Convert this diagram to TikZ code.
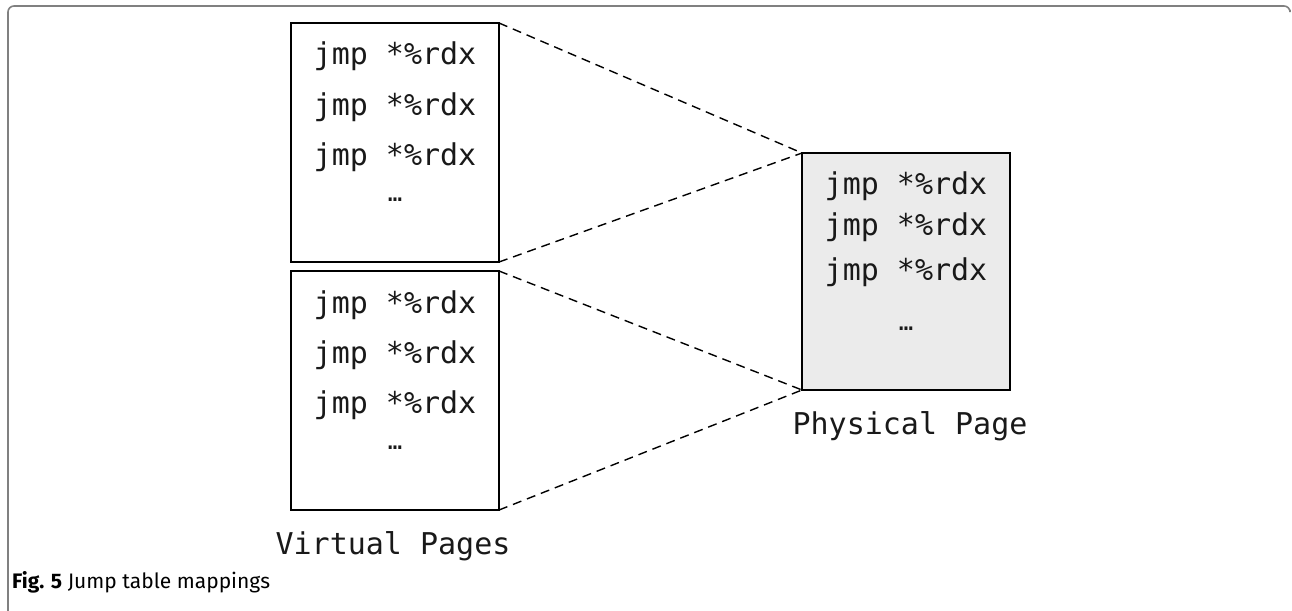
\documentclass[tikz,border=0pt]{standalone}
\usepackage{fontspec}
\newfontfamily\codefont{DejaVu Sans Mono}
\newfontfamily\capfont{Fira Sans}
\definecolor{pagegray}{HTML}{EBEBEB}
\definecolor{framegray}{HTML}{808080}
\tikzset{
  pagebox/.style={draw=black, line width=2pt, minimum width=208pt, anchor=north west, inner sep=0pt, outer sep=0pt},
  code/.style={font=\codefont\fontsize{30}{30}\selectfont, anchor=base, inner sep=0pt, text=black!90},
  dots/.style={font=\codefont\fontsize{24}{24}\selectfont, anchor=base, inner sep=0pt, text=black!90},
  maplink/.style={draw=black, line width=1.4pt, dash pattern=on 9pt off 6pt},
}
\begin{document}
\begin{tikzpicture}[x=1pt,y=-1pt]
\useasboundingbox (0,0) rectangle (1292,610);
% frame
\draw[framegray, line width=1.6pt, rounded corners=6pt] (8,612) -- (8,6) -- (1290,6) -- (1290,10);
% boxes
\node[pagebox, minimum height=239pt] (vtop) at (291,23) {};
\node[pagebox, minimum height=239pt] (vbot) at (291,271) {};
\node[pagebox, minimum height=237pt, fill=pagegray] (phys) at (802,153) {};
% connectors
\draw[maplink] (vtop.north east) -- (phys.north west);
\draw[maplink] (vtop.south east) -- (phys.north west);
\draw[maplink] (vbot.north east) -- (phys.south west);
\draw[maplink] (vbot.south east) -- (phys.south west);
% text virtual top
\node[code] (t1) at (395,65) {jmp *\%rdx};
\node[code] (t2) at (395,115) {jmp *\%rdx};
\node[code] (t3) at (395,165) {jmp *\%rdx};
\node[dots] (t4) at (395,201) {…};
% text virtual bottom
\node[code] (b1) at (395,313) {jmp *\%rdx};
\node[code] (b2) at (395,363) {jmp *\%rdx};
\node[code] (b3) at (395,413) {jmp *\%rdx};
\node[dots] (b4) at (395,449) {…};
% physical
\node[code] (p1) at (906,194) {jmp *\%rdx};
\node[code] (p2) at (906,235) {jmp *\%rdx};
\node[code] (p3) at (906,280) {jmp *\%rdx};
\node[dots] (p4) at (906,330) {…};
% labels
\node[code] (plabel) at (910,434) {Physical Page};
\node[code] (vlabel) at (393,554) {Virtual Pages};
% caption
\node[anchor=base west, inner sep=0pt, font=\capfont\fontsize{21}{21}\selectfont] (cap) at (12,588) {\textbf{Fig. 5} Jump table mappings};
\end{tikzpicture}
\end{document}
